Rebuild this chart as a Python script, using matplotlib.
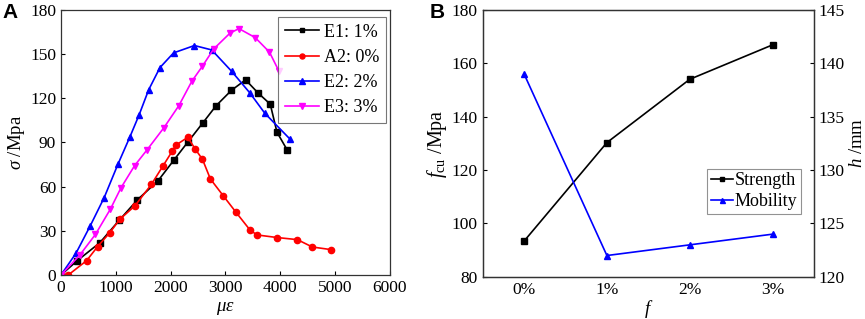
import numpy as np
import matplotlib
matplotlib.use("Agg")
import matplotlib.pyplot as plt

plt.rcParams["font.family"] = ["Liberation Serif", "DejaVu Serif"]
plt.rcParams["mathtext.fontset"] = "custom"
plt.rcParams["mathtext.rm"] = "Liberation Serif"
plt.rcParams["mathtext.it"] = "Liberation Serif:italic"
plt.rcParams["font.size"] = 12

# Panel A: stress-strain curves
e1_x = [0, 297, 709, 1060, 1394, 1770, 2061, 2310, 2594, 2833, 3112, 3370, 3600, 3820, 3942, 4127]
e1_y = [0, 9.7, 21.9, 37, 51, 63.9, 78, 90, 103.5, 115, 125.4, 132.5, 123.5, 116, 97, 85]
a2_x = [0, 133, 467, 667, 891, 1073, 1351, 1652, 1861, 2030, 2103, 2315, 2448, 2582, 2727, 2964,
        3194, 3449, 3576, 3952, 4315, 4588, 4933]
a2_y = [0, 0, 9.7, 19.2, 28.7, 37.8, 47, 61.6, 74, 84, 88.3, 93.5, 85.6, 78.6, 65.2, 53.7,
        42.6, 30.6, 27.2, 25.4, 24, 19, 17.2]
e2_x = [0, 273, 533, 788, 1042, 1255, 1424, 1600, 1806, 2055, 2436, 2752, 3115, 3448, 3721, 4182]
e2_y = [0, 14.7, 33.3, 52.5, 75.4, 93.5, 108.5, 125.7, 140.8, 150.8, 155.8, 152.8, 138.3, 123.6, 109.8, 92.2]
e3_x = [0, 345, 630, 903, 1097, 1345, 1576, 1879, 2152, 2388, 2582, 2788, 3085, 3248, 3545, 3806, 3976]
e3_y = [0, 13.6, 27.6, 44.8, 59.3, 74.3, 85.2, 100, 115, 131.5, 141.8, 153.5, 164.2, 167.3, 161.2, 151.3, 138.6]

# Panel B: strength and mobility vs fibre content
fiber = ["0%", "1%", "2%", "3%"]
strength = [93.4, 130.3, 154.0, 166.9]
mobility = [139.0, 122.0, 123.0, 124.0]

fig = plt.figure(figsize=(8.65, 3.19), dpi=100)
ax1 = fig.add_axes([0.0705, 0.138, 0.380, 0.831])
ax2 = fig.add_axes([0.558, 0.132, 0.383, 0.837])

lw = 1.2
ax1.plot(e1_x, e1_y, color="black", marker="s", ms=4, lw=lw, label="E1: 1%")
ax1.plot(a2_x, a2_y, color="red", marker="o", ms=4.5, lw=lw, label="A2: 0%")
ax1.plot(e2_x, e2_y, color="blue", marker="^", ms=5, lw=lw, label="E2: 2%")
ax1.plot(e3_x, e3_y, color="magenta", marker="v", ms=5, lw=lw, label="E3: 3%")
ax1.set_xlim(0, 6000)
ax1.set_ylim(0, 180)
ax1.set_xticks(np.arange(0, 6001, 1000))
ax1.set_yticks(np.arange(0, 181, 30))
ax1.set_xlabel(r"$\mu\varepsilon$", labelpad=3, fontsize=13.5)
ax1.set_ylabel(r"$\sigma$ /Mpa", labelpad=2, fontsize=13.5)
leg = ax1.legend(loc="upper right", bbox_to_anchor=(0.99, 0.975), numpoints=1, markerscale=0.8,
                 handlelength=1.9, handletextpad=0.25, labelspacing=0.45, borderpad=0.4,
                 borderaxespad=0, fancybox=False, edgecolor="#555555", fontsize=13)
leg.get_frame().set_linewidth(0.8)

x = np.arange(len(fiber))
ax2.plot(x, strength, color="black", marker="s", ms=4, lw=lw, label="Strength")
ax2.set_xlim(-0.5, 3.5)
ax2.set_ylim(80, 180)
ax2.set_xticks(x)
ax2.set_xticklabels(fiber)
ax2.set_xlabel(r"$f$", labelpad=0, fontsize=13.5)
ax2.set_ylabel(r"$f_{\mathrm{cu}}$ /Mpa", labelpad=2, fontsize=14.5)
ax3 = ax2.twinx()
ax3.plot(x, mobility, color="blue", marker="^", ms=4.5, lw=lw, label="Mobility")
ax3.set_ylim(120, 145)
ax3.set_yticks(np.arange(120, 146, 5))
ax3.set_ylabel(r"$h$ /mm", labelpad=3, fontsize=13.5)

h1, l1 = ax2.get_legend_handles_labels()
h2, l2 = ax3.get_legend_handles_labels()
leg2 = ax3.legend(h1 + h2, l1 + l2, loc="upper left", bbox_to_anchor=(0.678, 0.405), numpoints=1,
                  markerscale=0.8, handlelength=1.2, handletextpad=0.1, labelspacing=0.22,
                  borderpad=0.2, borderaxespad=0, fancybox=False, edgecolor="#777777", fontsize=13)
leg2.get_frame().set_linewidth(0.8)

for ax in (ax1, ax2, ax3):
    ax.tick_params(direction="in", length=3, width=0.8, labelsize=12.5)
    for s in ax.spines.values():
        s.set_linewidth(0.9)
        s.set_color("#333333")
ax2.tick_params(axis="x", length=0)

fig.text(0.003, 0.962, "A", fontsize=15, fontweight="bold", family="Liberation Sans", va="center")
fig.text(0.497, 0.962, "B", fontsize=15, fontweight="bold", family="Liberation Sans", va="center")

fig.savefig("out.png", dpi=100)
